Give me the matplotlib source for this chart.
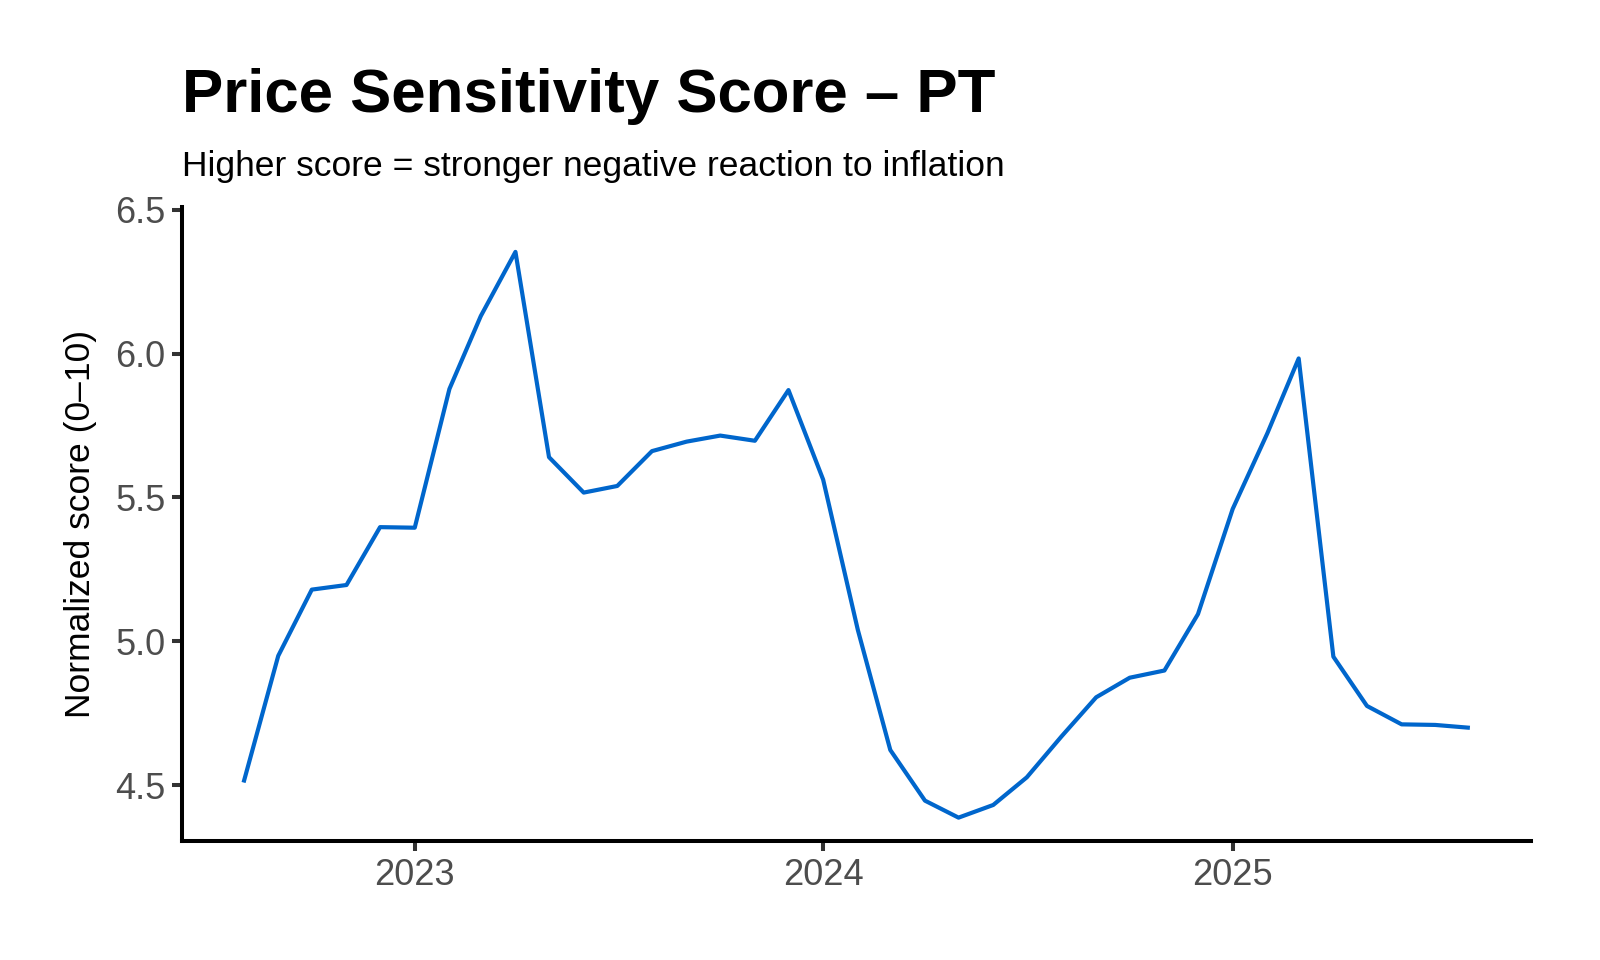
import matplotlib
matplotlib.use("Agg")
import matplotlib.pyplot as plt
import matplotlib.dates as mdates
import pandas as pd
import numpy as np

plt.rcParams['font.family'] = ['Liberation Sans', 'DejaVu Sans']

# ---- data ----
months = pd.date_range("2022-08-01", "2025-08-01", freq="MS")
scores = [4.51, 4.95, 5.18, 5.196, 5.397, 5.395, 5.877, 6.13, 6.353,
          5.64, 5.517, 5.54, 5.661, 5.694, 5.715, 5.697, 5.873,
          5.562, 5.04, 4.623, 4.447, 4.388, 4.432, 4.528, 4.67, 4.806,
          4.874, 4.899, 5.095, 5.46, 5.723, 5.983, 4.947, 4.776, 4.712,
          4.71, 4.70]
y_ticks = [4.5, 5.0, 5.5, 6.0, 6.5]
title = "Price Sensitivity Score \u2013 PT"
subtitle = "Higher score = stronger negative reaction to inflation"
ylabel = "Normalized score (0\u201310)"

fig = plt.figure(figsize=(16, 9.6), dpi=100)
ax = fig.add_axes([0.1139, 0.124, 0.957 - 0.1139, 0.7847 - 0.124])

ax.plot(months, scores, color="#0066CC", lw=3.0,
        solid_joinstyle="round", solid_capstyle="butt")

start, end = months[0], months[-1]
span = end - start
ax.set_xlim(start - span * 0.05, end + span * 0.05)
ax.set_ylim(4.307, 6.51)

ax.xaxis.set_major_locator(mdates.YearLocator())
ax.xaxis.set_major_formatter(mdates.DateFormatter("%Y"))
ax.set_yticks(y_ticks)
ax.set_yticklabels([f"{v:.1f}" for v in y_ticks])

for s in ["top", "right"]:
    ax.spines[s].set_visible(False)
for s in ["left", "bottom"]:
    ax.spines[s].set_linewidth(2.9)
    ax.spines[s].set_color("black")
    ax.spines[s].set_capstyle("projecting")

ax.tick_params(axis="both", length=7, width=2.9, color="#333333",
               labelsize=26, labelcolor="#4D4D4D", pad=5)
ax.set_ylabel(ylabel, fontsize=25.5, color="black", labelpad=13)

fig.text(0.1139, 0.883, title, fontsize=44.5, fontweight="bold", ha="left", va="baseline")
fig.text(0.1139, 0.817, subtitle, fontsize=25.5, ha="left", va="baseline")

fig.savefig("out.png", dpi=100, facecolor="white")
